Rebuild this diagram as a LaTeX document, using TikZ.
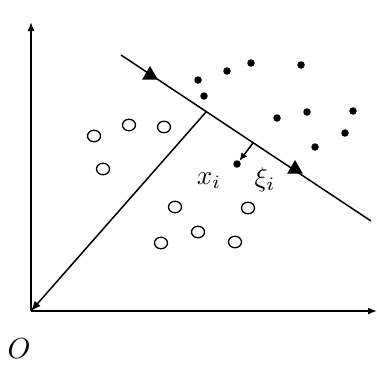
\documentclass[tikz,border=0pt]{standalone}
\usetikzlibrary{arrows.meta,shapes.geometric}
\begin{document}
\begin{tikzpicture}[x=1pt,y=-1pt,
  ln/.style={line width=1.5pt,black},
  opendot/.style={draw,ellipse,line width=1.3pt,minimum width=13pt,minimum height=11.5pt,inner sep=0pt},
  fulldot/.style={fill,circle,minimum size=7.5pt,inner sep=0pt},
  tri/.style={fill,regular polygon,regular polygon sides=3,minimum size=18pt,inner sep=0pt},
  lab/.style={scale=2.7,inner sep=0pt}]
\useasboundingbox (0,0) rectangle (377,364);
\coordinate (O) at (31,311);
\coordinate (ytop) at (31,22);
\coordinate (xend) at (377,311);
\coordinate (L1) at (121,55);
\coordinate (L2) at (371,221);
\coordinate (F) at (206,112);
\coordinate (S) at (253,143);
\draw[ln,-{Latex[length=9pt,width=7pt]}] (O) -- (ytop);
\draw[ln,-{Latex[length=9pt,width=7pt]}] (O) -- (xend);
\draw[ln] (L1) -- (L2);
\draw[ln,-{Latex[length=10pt,width=8pt]}] (F) -- (O);
\node[tri] (t1) at (150,75) {};
\node[tri] (t2) at (295,169) {};
\node[fulldot] (xi) at (237,164) {};
\draw[ln,-{Latex[length=8pt,width=7pt]}] (S) -- (xi);
\node[lab] (xl) at (209,181) {$x_i$};
\node[lab] (zl) at (265,180) {$\xi_i$};
\node[scale=2.9,inner sep=0pt] (ol) at (19,349) {$O$};
\foreach \p [count=\i] in {(198,80),(227,71),(251,63),(301,65),(204,96),(277,118),(307,112),(353,111),(345,133),(315,147)}
  \node[fulldot] (d\i) at \p {};
\foreach \p [count=\i] in {(94,136),(129,125),(164,127),(103,169),(175,207),(248,208),(198,232),(235,242),(161,243)}
  \node[opendot] (c\i) at \p {};
\end{tikzpicture}
\end{document}
